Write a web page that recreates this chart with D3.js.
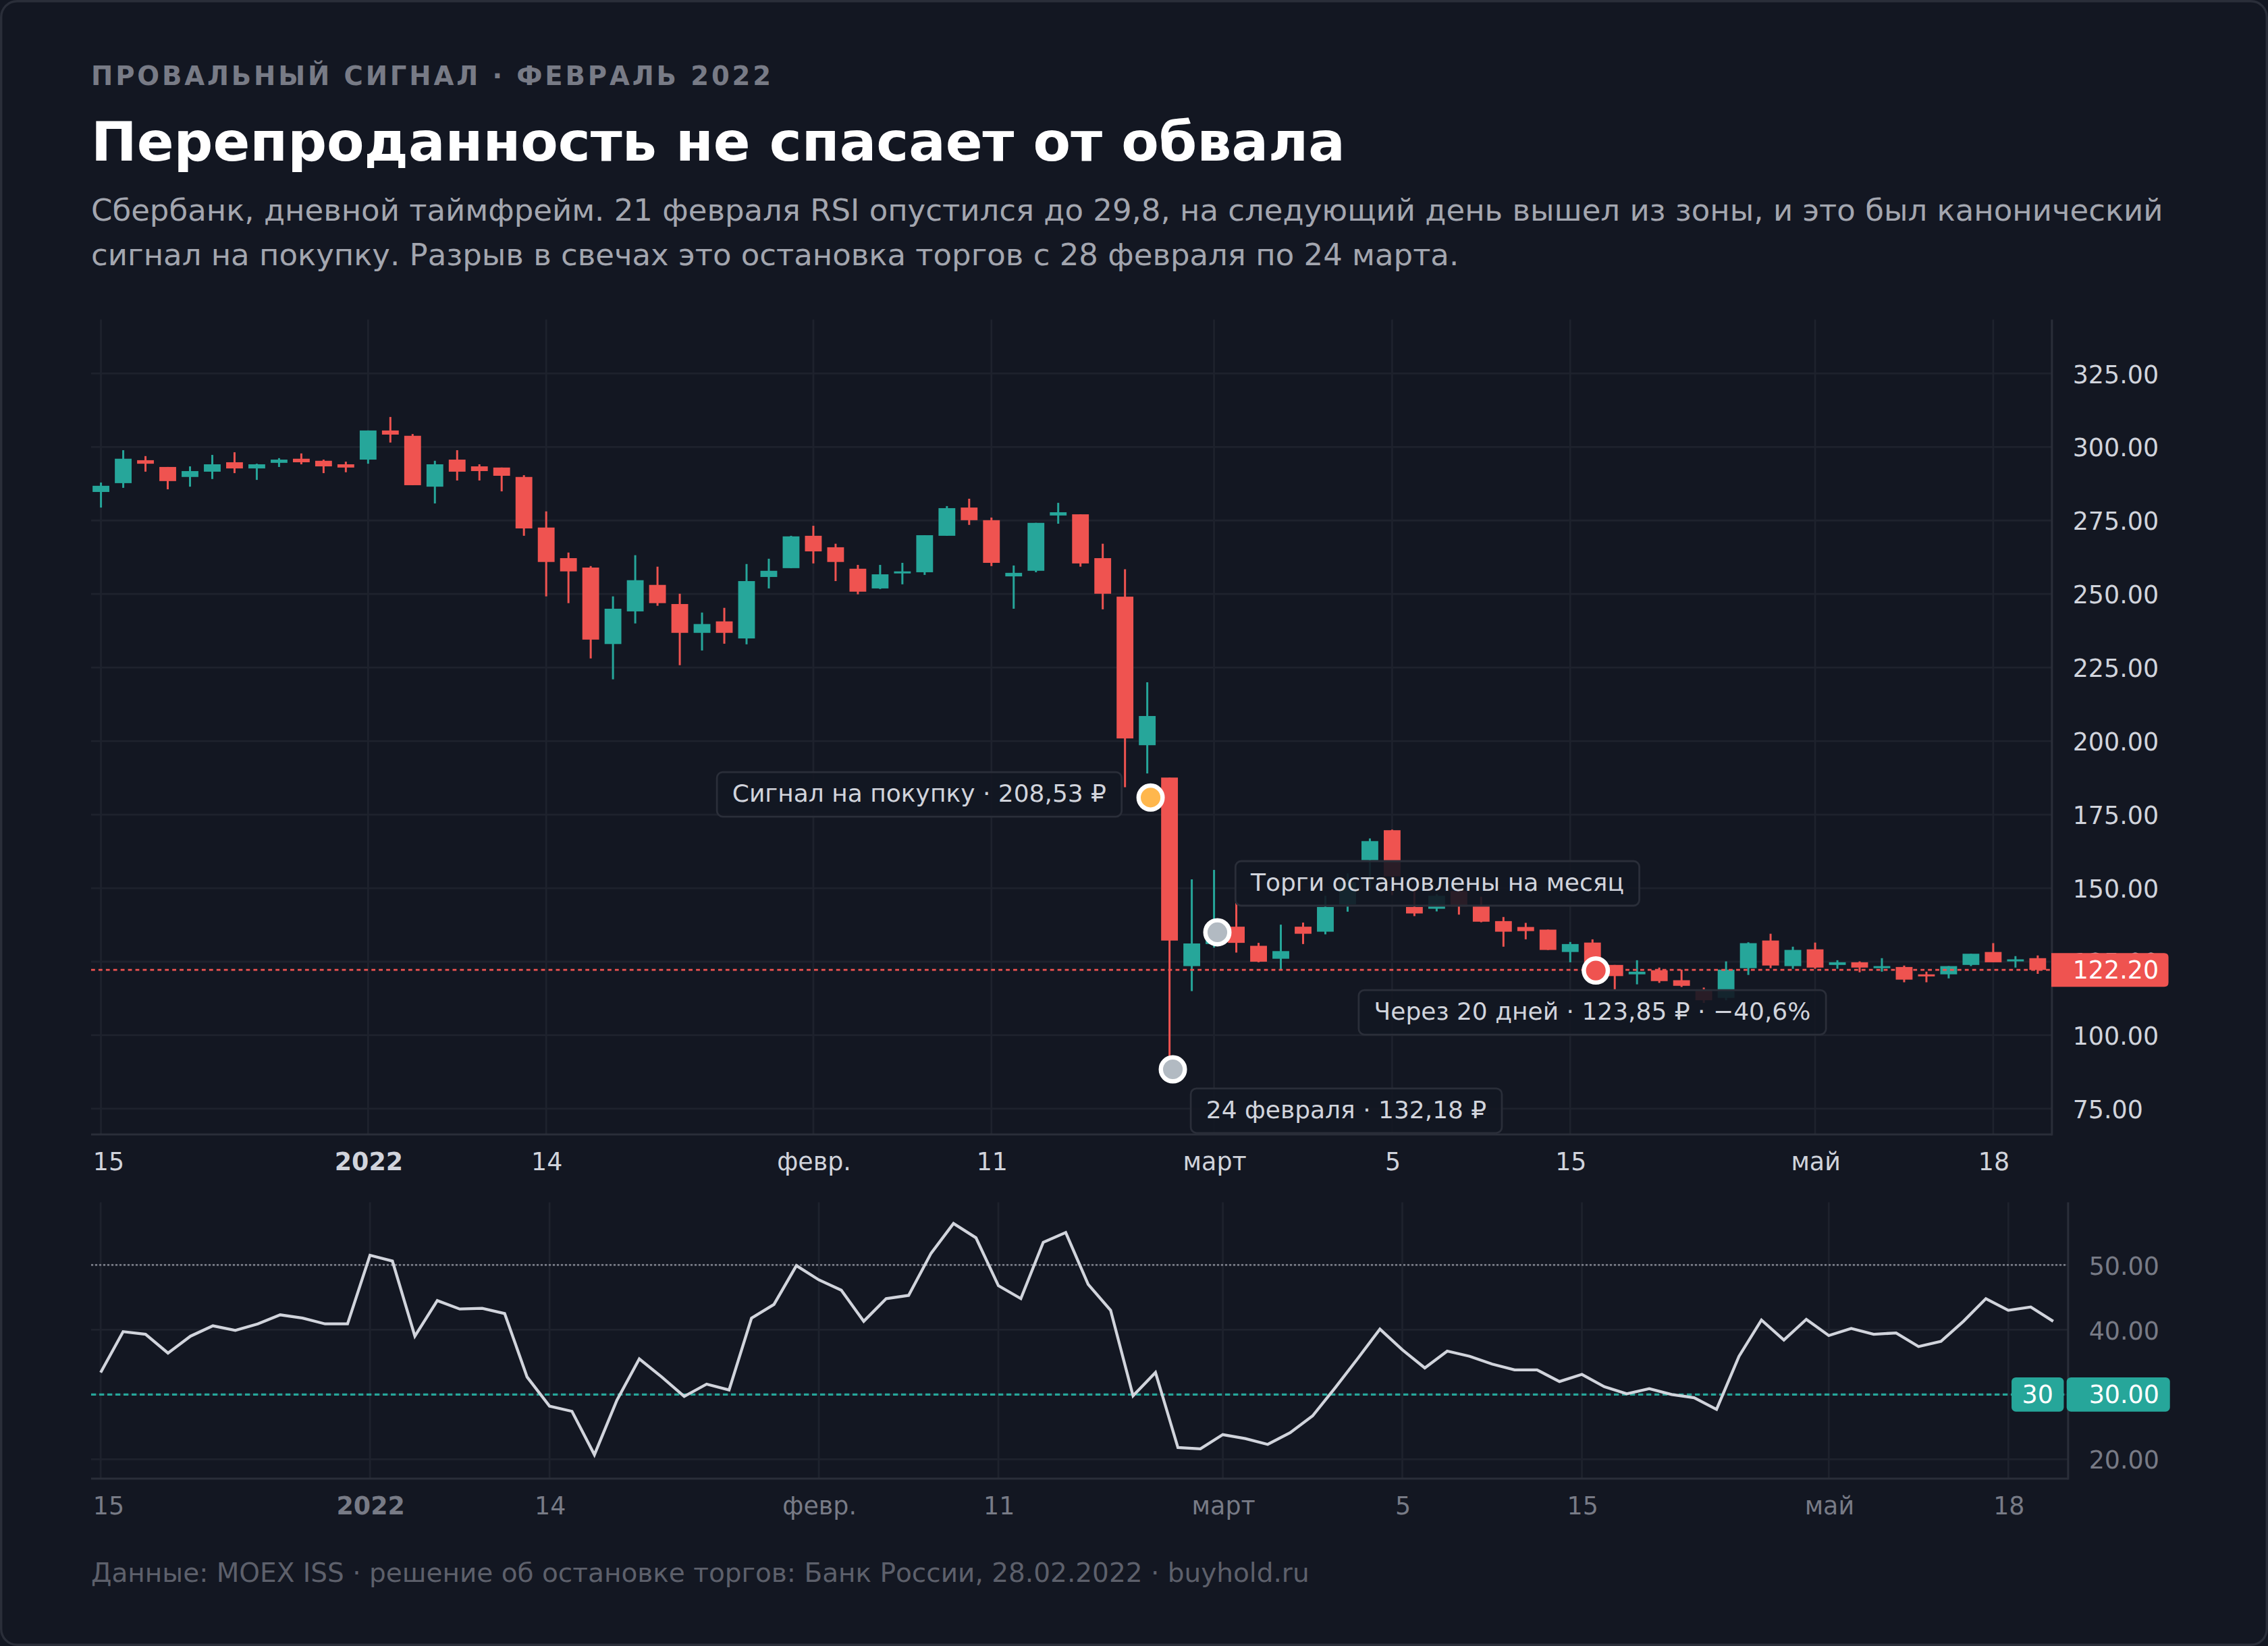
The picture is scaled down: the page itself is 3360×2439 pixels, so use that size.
<!DOCTYPE html>
<html><head><meta charset="utf-8">
<script src="https://cdn.jsdelivr.net/npm/d3@7"></script>
<style>
html,body{margin:0;padding:0;background:#131722;overflow:hidden;}
svg{display:block;}
</style></head><body>
<svg id="c" width="3360" height="2439" viewBox="0 0 1568 1138.2"></svg>
<script>
// ---------------- DATA ----------------
const dates = [
 "2021-12-15","2021-12-16","2021-12-17","2021-12-20","2021-12-21","2021-12-22","2021-12-23","2021-12-24","2021-12-27","2021-12-28","2021-12-29","2021-12-30",
 "2022-01-03","2022-01-04","2022-01-05","2022-01-06","2022-01-10","2022-01-11","2022-01-12","2022-01-13","2022-01-14","2022-01-17","2022-01-18","2022-01-19",
 "2022-01-20","2022-01-21","2022-01-24","2022-01-25","2022-01-26","2022-01-27","2022-01-28","2022-01-31","2022-02-01","2022-02-02","2022-02-03","2022-02-04",
 "2022-02-07","2022-02-08","2022-02-09","2022-02-10","2022-02-11","2022-02-14","2022-02-15","2022-02-16","2022-02-17","2022-02-18","2022-02-21","2022-02-22",
 "2022-02-24","2022-02-25","2022-03-24","2022-03-25","2022-03-28","2022-03-29","2022-03-30","2022-03-31","2022-04-01","2022-04-04","2022-04-05","2022-04-06",
 "2022-04-07","2022-04-08","2022-04-11","2022-04-12","2022-04-13","2022-04-14","2022-04-15","2022-04-18","2022-04-19","2022-04-20","2022-04-21","2022-04-22",
 "2022-04-25","2022-04-26","2022-04-27","2022-04-28","2022-04-29","2022-05-04","2022-05-05","2022-05-06","2022-05-11","2022-05-12","2022-05-13","2022-05-16",
 "2022-05-17","2022-05-18","2022-05-19","2022-05-20"
];
const opens = [284.7,287.7,295.5,293.2,289.8,291.6,294.8,292.7,294.6,296.0,295.3,294.1,
 295.7,305.6,303.8,286.5,295.7,293.4,293.0,289.8,272.6,262.2,259.0,233.0,
 244.1,253.1,246.6,236.8,240.7,234.9,255.8,258.8,269.8,265.9,258.6,251.9,
 257.0,257.4,269.8,279.4,275.1,256.0,257.9,276.7,277.1,262.2,249.1,198.6,
 187.6,123.5,131.0,136.9,130.4,126.0,136.9,135.2,144.5,159.5,169.7,143.6,
 143.0,149.0,143.9,138.8,136.8,135.9,128.3,131.5,123.9,120.7,122.1,118.7,
 115.6,112.7,122.8,132.2,123.5,129.2,123.9,124.8,122.8,123.2,120.7,120.7,
 123.9,128.3,125.1,126.2];
const highs = [287.9,298.9,296.9,293.2,293.4,297.3,298.2,294.3,296.2,297.8,295.7,295.0,
 305.6,310.2,304.4,295.3,298.9,294.1,293.0,290.4,278.1,264.1,259.5,249.2,
 263.2,259.3,250.1,243.7,245.3,260.2,262.0,269.8,273.2,267.1,259.9,259.9,
 260.6,270.0,279.9,282.4,276.0,259.7,274.2,281.0,277.1,267.1,258.4,220.0,
 187.6,153.0,156.2,145.0,131.4,137.6,138.3,147.4,155.0,166.9,169.9,149.5,
 148.0,150.0,147.1,140.2,138.2,135.9,131.7,132.6,123.9,125.5,123.0,122.3,
 116.2,125.1,131.6,134.5,130.1,131.5,125.5,125.1,126.2,123.7,121.6,123.5,
 127.7,131.3,126.9,127.1];
const lows = [279.4,286.1,291.6,285.6,286.5,289.1,291.1,288.8,293.2,294.1,291.1,291.4,
 294.3,301.5,287.0,280.8,288.6,288.6,284.9,269.8,249.2,246.9,228.1,221.0,
 240.0,246.0,225.8,230.8,233.1,232.9,251.9,258.8,260.4,254.4,249.9,251.7,
 253.3,256.5,269.8,273.5,259.5,245.0,257.4,273.9,259.3,244.8,184.3,189.0,
 89.6,115.0,129.8,128.1,124.8,122.2,131.0,134.3,142.0,150.0,147.6,140.5,
 142.1,141.0,138.4,130.1,132.6,129.0,124.8,121.5,115.4,117.3,117.8,116.4,
 111.0,111.9,120.5,122.8,122.6,122.6,122.6,121.4,121.6,118.0,118.0,119.3,
 123.5,124.8,123.0,120.9];
const closes = [286.8,296.0,294.3,288.4,291.8,294.1,292.7,294.1,295.7,294.8,293.4,293.0,
 305.6,304.2,287.0,294.1,291.6,291.8,290.2,272.3,260.9,257.7,234.5,245.0,
 254.7,246.9,236.8,239.8,236.8,254.4,257.9,269.6,264.5,260.9,250.8,256.7,
 257.7,270.0,279.2,275.1,260.6,257.2,274.2,277.8,260.4,250.1,200.9,208.53,
 132.18,131.2,136.0,131.4,125.0,128.6,134.5,143.6,152.0,166.0,154.0,141.4,
 147.4,143.8,138.6,135.2,135.4,129.0,131.0,123.85,120.1,121.6,118.4,116.8,
 111.9,122.3,131.3,123.7,129.0,123.0,124.8,123.0,123.5,118.9,120.0,123.5,
 127.7,124.8,125.8,122.2];
const rsi = [33.4,39.7,39.3,36.4,39.0,40.6,39.9,40.9,42.3,41.8,40.9,40.9,
 51.5,50.6,39.0,44.5,43.2,43.3,42.5,32.7,28.2,27.4,20.7,29.1,
 35.5,32.7,29.7,31.6,30.7,41.8,43.9,49.9,47.7,46.1,41.3,44.8,
 45.3,51.8,56.4,54.2,46.8,44.8,53.5,55.0,47.0,43.0,29.8,33.4,
 21.8,21.6,23.8,23.2,22.3,24.1,26.7,31.0,35.5,40.1,36.9,34.1,
 36.7,35.9,34.7,33.8,33.8,32.0,33.1,31.2,30.1,30.9,30.0,29.5,
 27.7,35.9,41.5,38.4,41.6,39.1,40.2,39.3,39.5,37.4,38.2,41.3,
 44.8,43.0,43.5,41.3];

const priceTicks = [75,100,125,150,175,200,225,250,275,300,325];
const rsiTicks = [20,30,40,50];
const tickDates = ["2021-12-15","2022-01-03","2022-01-14","2022-02-01","2022-02-11","2022-03-24","2022-04-05","2022-04-15","2022-05-04","2022-05-18"];
const tickTexts = ["15","2022","14","февр.","11","март","5","15","май","18"];
const tickBold  = [false,true,false,false,false,false,false,false,false,false];

const lastPrice = 122.20;
const rsiOversold = 30;
const rsiMid = 50;

const markerDates  = ["2022-02-22","2022-02-24","2022-03-24","2022-04-18"];
const markerPrices = [180.8, 88.4, 135.0, 122.0];
const markerKinds  = ["signal","low","halt","after"];
const markerTexts  = ["Сигнал на покупку · 208,53 ₽","24 февраля · 132,18 ₽","Торги остановлены на месяц","Через 20 дней · 123,85 ₽ · −40,6%"];

const kicker = "ПРОВАЛЬНЫЙ СИГНАЛ · ФЕВРАЛЬ 2022";
const title = "Перепроданность не спасает от обвала";
const subtitle = ["Сбербанк, дневной таймфрейм. 21 февраля RSI опустился до 29,8, на следующий день вышел из зоны, и это был канонический",
                  "сигнал на покупку. Разрыв в свечах это остановка торгов с 28 февраля по 24 марта."];
const footer = "Данные: MOEX ISS · решение об остановке торгов: Банк России, 28.02.2022 · buyhold.ru";

// ---------------- STYLE ----------------
const FONT = '"DejaVu Sans", sans-serif';
const C = {bg:'#131722', grid:'#1e222d', border:'#2a2e39', text:'#d1d4dc', dim:'#787b86',
           up:'#26a69a', down:'#ef5350', sub:'#a3a6af', foot:'#5d606b'};
const markerFill = {signal:'#ffb74d', low:'#b2bac2', halt:'#b2bac2', after:'#ef5350'};

const W = 1568, H = 1138.2;
const S = d3.select('#c').attr('font-family', FONT);

S.append('rect').attr('x',0.8).attr('y',0.8).attr('width',W-1.6).attr('height',H-1.6)
 .attr('rx',11).attr('fill',C.bg).attr('stroke','#2a2e39').attr('stroke-width',1.6);

function fitSize(sel, target){
  const w = sel.node().getComputedTextLength();
  const fs = parseFloat(sel.attr('font-size'));
  sel.attr('font-size', fs*target/w);
}

// header
const kt = S.append('text').attr('x',63).attr('y',59).attr('font-size',18).attr('font-weight','bold')
 .attr('fill',C.dim).text(kicker);
{ const w0 = kt.node().getComputedTextLength(); kt.attr('letter-spacing', (470 - w0)/(kicker.length-1)); }
const tt = S.append('text').attr('x',63).attr('y',111).attr('font-size',37).attr('font-weight','bold')
 .attr('fill','#ffffff').text(title);
fitSize(tt, 867);
const st1 = S.append('text').attr('x',63).attr('y',152.5).attr('font-size',19.5).attr('fill',C.sub).text(subtitle[0]);
fitSize(st1, 1432);
S.append('text').attr('x',63).attr('y',183.6).attr('font-size',st1.attr('font-size')).attr('fill',C.sub).text(subtitle[1]);
const ft = S.append('text').attr('x',63).attr('y',1094).attr('font-size',17).attr('fill',C.foot).text(footer);
fitSize(ft, 842);

const n = dates.length;
const tickIdx = tickDates.map(d => dates.indexOf(d));

// ---------------- PRICE PANE ----------------
const P = {l:63, r:1418.6, t:221, b:784.5};
const xMain = d3.scaleLinear().domain([0,n-1]).range([69.8,1408.8]);
const yMain = d3.scaleLinear().domain([66.25,343.3]).range([P.b,P.t]);

const defs = S.append('defs');
defs.append('clipPath').attr('id','clipP').append('rect').attr('x',P.l).attr('y',P.t).attr('width',P.r-P.l).attr('height',P.b-P.t);

const gP = S.append('g');
gP.selectAll('line.h').data(priceTicks).join('line')
  .attr('x1',P.l).attr('x2',P.r).attr('y1',d=>yMain(d)).attr('y2',d=>yMain(d))
  .attr('stroke',C.grid).attr('stroke-width',1.3);
gP.selectAll('line.v').data(tickIdx).join('line')
  .attr('y1',P.t).attr('y2',P.b).attr('x1',d=>xMain(d)).attr('x2',d=>xMain(d))
  .attr('stroke',C.grid).attr('stroke-width',1.3);

const candles = d3.range(n).map(i => ({i, o:opens[i], h:highs[i], l:lows[i], c:closes[i]}));
const gC = S.append('g').attr('clip-path','url(#clipP)');
const bw = 11.6;
const cg = gC.selectAll('g').data(candles).join('g');
cg.append('line')
  .attr('x1',d=>xMain(d.i)).attr('x2',d=>xMain(d.i))
  .attr('y1',d=>yMain(d.h)).attr('y2',d=>yMain(d.l))
  .attr('stroke',d=>d.c>=d.o?C.up:C.down).attr('stroke-width',1.4);
cg.append('rect')
  .attr('x',d=>xMain(d.i)-bw/2).attr('width',bw)
  .attr('y',d=>yMain(Math.max(d.o,d.c)))
  .attr('height',d=>Math.max(1.2, Math.abs(yMain(d.o)-yMain(d.c))))
  .attr('fill',d=>d.c>=d.o?C.up:C.down);

// last price line
gC.append('line').attr('x1',P.l).attr('x2',P.r).attr('y1',yMain(lastPrice)).attr('y2',yMain(lastPrice))
  .attr('stroke',C.down).attr('stroke-width',1.3).attr('stroke-dasharray','2.7 2.4');

// axes
const ax = S.append('g').attr('transform',`translate(${P.r},0)`)
  .call(d3.axisRight(yMain).tickValues(priceTicks).tickFormat(d3.format('.2f')).tickSize(0).tickPadding(14.4));
ax.select('.domain').remove();
ax.attr('font-size',17).attr('font-family',FONT).attr('color',C.text);
ax.selectAll('text').attr('dy','0.36em');

function timeAxis(scale, y, left, color){
  const g = S.append('g').attr('transform',`translate(0,${y})`)
    .call(d3.axisBottom(scale).tickValues(tickIdx).tickFormat((d,k)=>tickTexts[k]).tickSize(0).tickPadding(12.7));
  g.select('.domain').remove();
  g.attr('font-size',17).attr('font-family',FONT).attr('color',color);
  g.selectAll('text').attr('font-weight',(d,k)=>tickBold[k]?'bold':null)
   .each(function(d){
      const w = this.getComputedTextLength();
      const x = scale(d);
      if (x - w/2 < left + 0.8) d3.select(this).attr('x', left + 0.8 + w/2 - x);
   });
  return g;
}
timeAxis(xMain, P.b, P.l, C.text);

S.append('line').attr('x1',P.r).attr('x2',P.r).attr('y1',P.t).attr('y2',P.b+0.7).attr('stroke',C.border).attr('stroke-width',1.4);
S.append('line').attr('x1',P.l).attr('x2',P.r).attr('y1',P.b).attr('y2',P.b).attr('stroke',C.border).attr('stroke-width',1.4);

// last price label
{
  const yc = yMain(lastPrice), x0 = P.r-0.4, x1 = 1499.2, h2 = 11.7, r = 3;
  S.append('path').attr('d',`M${x0},${yc-h2}H${x1-r}Q${x1},${yc-h2} ${x1},${yc-h2+r}V${yc+h2-r}Q${x1},${yc+h2} ${x1-r},${yc+h2}H${x0}Z`)
   .attr('fill',C.down);
  S.append('text').attr('x',1433).attr('y',yc).attr('dy','0.36em').attr('font-size',17).attr('fill','#ffffff')
   .text(d3.format('.2f')(lastPrice));
}

// markers + annotations
const mk = markerDates.map((d,k)=>({i:dates.indexOf(d), p:markerPrices[k], kind:markerKinds[k], text:markerTexts[k]}));
const gA = S.append('g');
mk.forEach(m => {
  const mx = xMain(m.i) + 2.3, my = yMain(m.p);
  const g = gA.append('g');
  const bh = 30.8, pad = 10.6;
  const rect = g.append('rect').attr('rx',4).attr('height',bh)
     .attr('fill','rgba(19,23,34,0.9)').attr('stroke','#2a2e39').attr('stroke-width',1.3);
  const t = g.append('text').attr('font-size',16.8).attr('fill',C.text).text(m.text);
  const bwid = t.node().getComputedTextLength() + 2*pad;
  let bx, by;
  if (m.kind==='signal'){ bx = mx - 20 - bwid; by = my - 17.6; }
  else if (m.kind==='halt'){ bx = mx + 12.5; by = my - 49.2; }
  else if (m.kind==='low'){ bx = mx + 12.4; by = my + 13.2; }
  else { bx = mx - 2.4 - bwid/2; by = my + 13.5; }
  rect.attr('x',bx).attr('y',by).attr('width',bwid);
  t.attr('x',bx+pad).attr('y',by+20.6);
  gA.append('circle').attr('cx',mx).attr('cy',my).attr('r',8.3)
    .attr('fill',markerFill[m.kind]).attr('stroke','#ffffff').attr('stroke-width',3);
});

// ---------------- RSI PANE ----------------
const R = {l:63, r:1429.8, t:831.4, b:1022.5};
const xRsi = d3.scaleLinear().domain([0,n-1]).range([69.6,1419.5]);
const yRsi = d3.scaleLinear().domain([17.0,59.67]).range([R.b,R.t]);
defs.append('clipPath').attr('id','clipR').append('rect').attr('x',R.l).attr('y',R.t).attr('width',R.r-R.l).attr('height',R.b-R.t);

const gR = S.append('g');
gR.selectAll('line.h').data(rsiTicks).join('line')
  .attr('x1',R.l).attr('x2',R.r).attr('y1',d=>yRsi(d)).attr('y2',d=>yRsi(d))
  .attr('stroke',C.grid).attr('stroke-width',1.3);
gR.selectAll('line.v').data(tickIdx).join('line')
  .attr('y1',R.t).attr('y2',R.b).attr('x1',d=>xRsi(d)).attr('x2',d=>xRsi(d))
  .attr('stroke',C.grid).attr('stroke-width',1.3);
gR.append('line').attr('x1',R.l).attr('x2',R.r).attr('y1',yRsi(rsiMid)).attr('y2',yRsi(rsiMid))
  .attr('stroke',C.dim).attr('stroke-width',1.2).attr('stroke-dasharray','1.4 1.4');
gR.append('line').attr('x1',R.l).attr('x2',R.r).attr('y1',yRsi(rsiOversold)).attr('y2',yRsi(rsiOversold))
  .attr('stroke',C.up).attr('stroke-width',1.5).attr('stroke-dasharray','3.4 2.2');

S.append('path').datum(rsi).attr('clip-path','url(#clipR)')
  .attr('d', d3.line().x((d,i)=>xRsi(i)).y(d=>yRsi(d)))
  .attr('fill','none').attr('stroke',C.text).attr('stroke-width',2).attr('stroke-linejoin','miter');

const axR = S.append('g').attr('transform',`translate(${R.r},0)`)
  .call(d3.axisRight(yRsi).tickValues(rsiTicks).tickFormat(d3.format('.2f')).tickSize(0).tickPadding(14.4));
axR.select('.domain').remove();
axR.attr('font-size',17).attr('font-family',FONT).attr('color',C.dim);
axR.selectAll('text').attr('dy','0.36em');

timeAxis(xRsi, R.b, R.l, C.dim);
S.append('line').attr('x1',R.r).attr('x2',R.r).attr('y1',R.t).attr('y2',R.b+0.7).attr('stroke',C.border).attr('stroke-width',1.4);
S.append('line').attr('x1',R.l).attr('x2',R.r).attr('y1',R.b).attr('y2',R.b).attr('stroke',C.border).attr('stroke-width',1.4);

// oversold labels
{
  const yc = yRsi(rsiOversold), h2 = 11.85;
  S.append('rect').attr('x',1390.7).attr('y',yc-h2).attr('width',36.1).attr('height',2*h2).attr('rx',3).attr('fill',C.up);
  S.append('text').attr('x',1408.75).attr('y',yc).attr('dy','0.36em').attr('text-anchor','middle')
   .attr('font-size',17).attr('fill','#ffffff').text(String(rsiOversold));
  S.append('rect').attr('x',1428.8).attr('y',yc-h2).attr('width',71.4).attr('height',2*h2).attr('rx',3).attr('fill',C.up);
  S.append('text').attr('x',1444.2).attr('y',yc).attr('dy','0.36em')
   .attr('font-size',17).attr('fill','#ffffff').text(d3.format('.2f')(rsiOversold));
}
</script>
</body></html>
